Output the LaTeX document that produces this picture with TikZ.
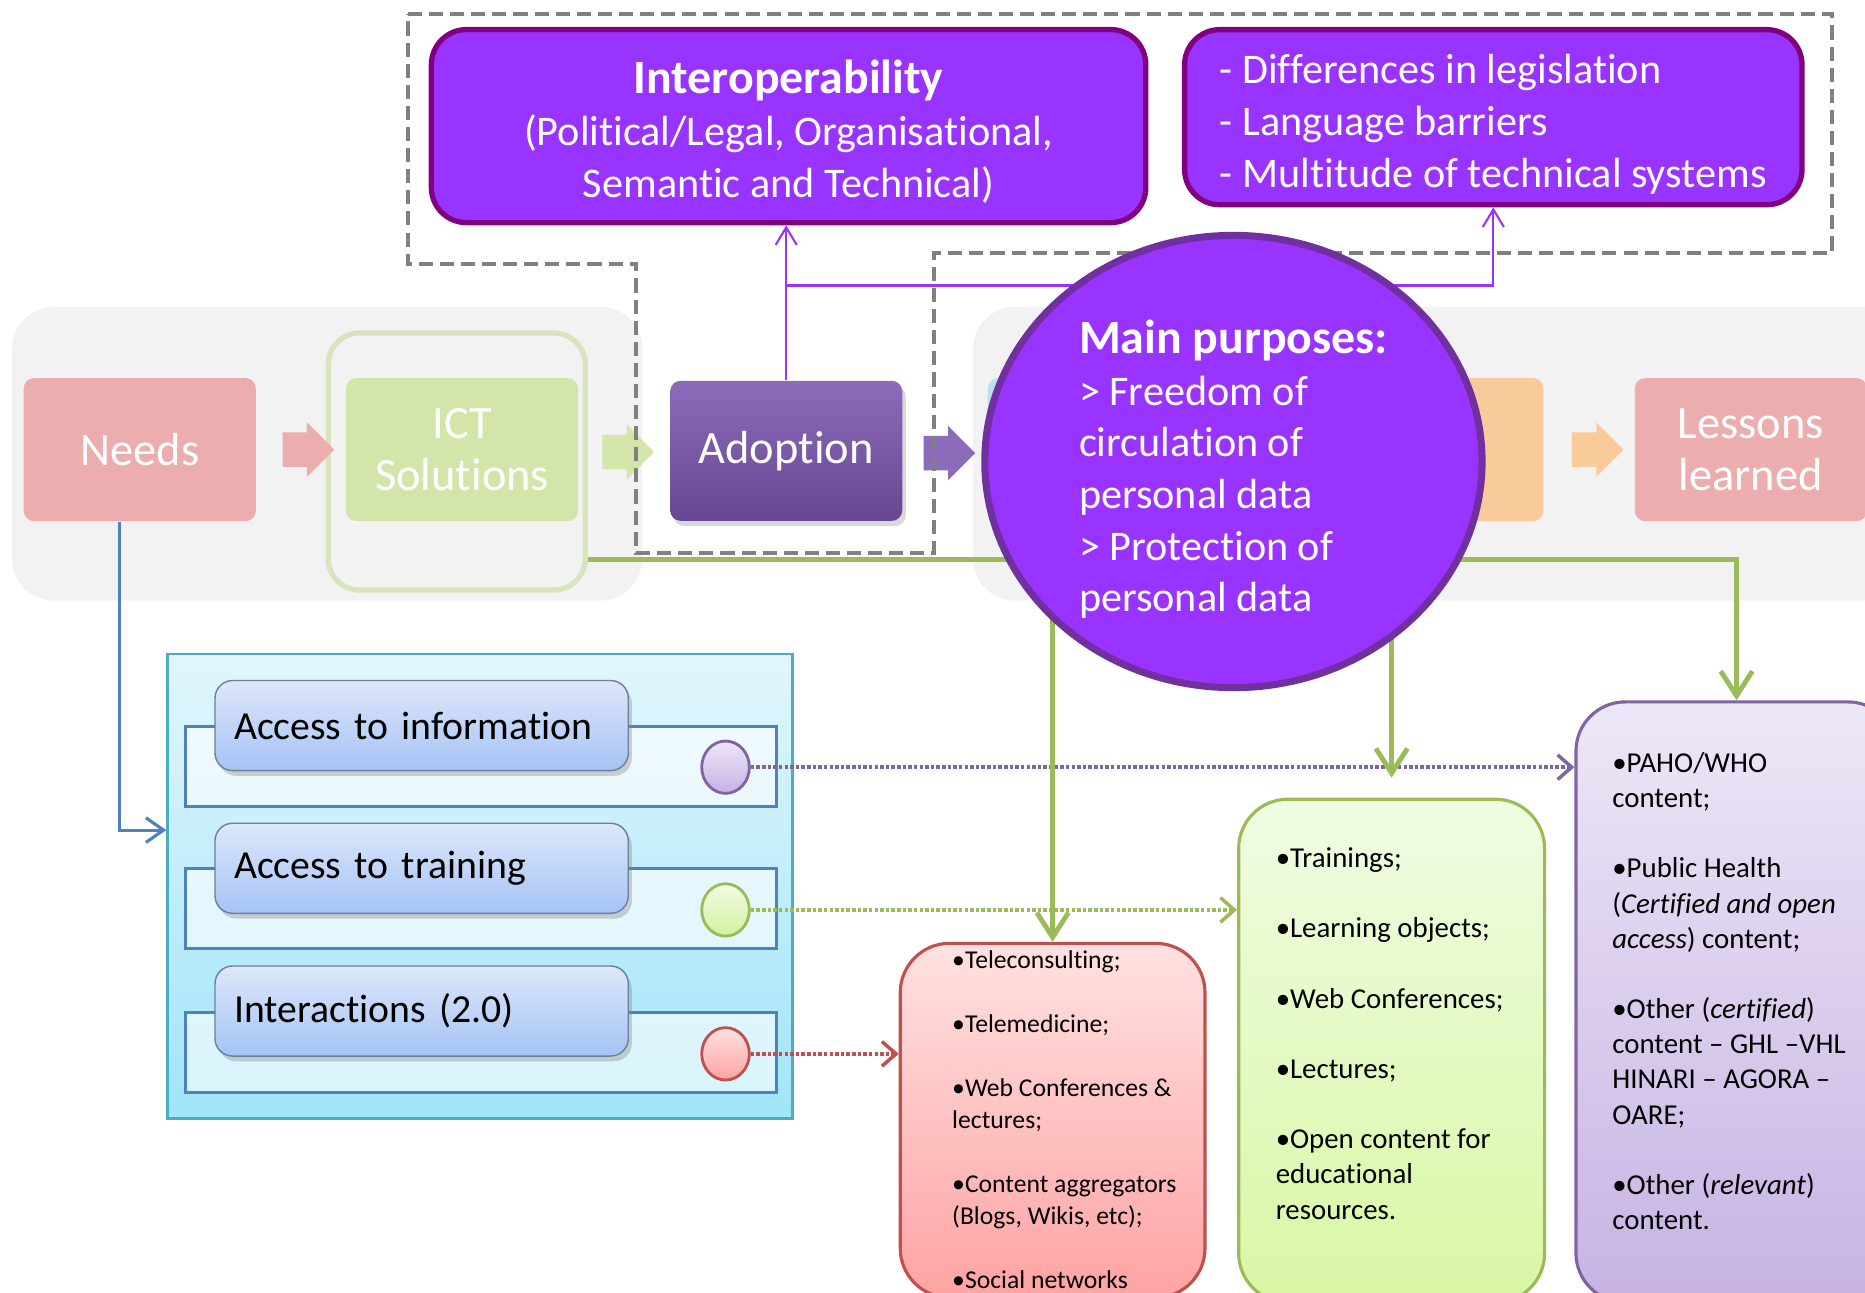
\documentclass[tikz,border=0pt]{standalone}
\usepackage{fontspec}
\setmainfont{Carlito}[Ligatures=NoCommon]
\usetikzlibrary{shapes.geometric, shapes.arrows, arrows.meta, shadows}

\definecolor{vivid}{HTML}{9933FF}
\definecolor{plumline}{HTML}{800080}
\definecolor{ringline}{HTML}{7030A0}
\definecolor{panelgray}{HTML}{F2F2F2}
\definecolor{dashgray}{HTML}{808080}
\definecolor{leaf}{HTML}{9BBB59}
\definecolor{sky}{HTML}{4F81BD}
\definecolor{lagoon}{HTML}{4BACC6}
\definecolor{brick}{HTML}{C0504D}
\definecolor{lilac}{HTML}{8064A2}
\definecolor{needred}{HTML}{EBADAD}
\definecolor{ictgreen}{HTML}{D3E5A9}
\definecolor{ictline}{HTML}{D7E4BD}
\definecolor{orangefade}{HTML}{F9CA9A}
\definecolor{tealfade}{HTML}{B9E3EC}
\definecolor{adopttop}{HTML}{8C6BBB}
\definecolor{adoptbot}{HTML}{674791}
\definecolor{cyantop}{HTML}{E1F6FC}
\definecolor{cyanbot}{HTML}{A0E5F9}
\definecolor{pilltop}{HTML}{DDE7FA}
\definecolor{pillbot}{HTML}{A5C3F5}
\definecolor{redtop}{HTML}{FFE1E1}
\definecolor{redbot}{HTML}{FFA3A3}
\definecolor{greentop}{HTML}{F1FCE3}
\definecolor{greenbot}{HTML}{D8F7A4}
\definecolor{lilactop}{HTML}{EEE7F7}
\definecolor{lilacbot}{HTML}{C6B3E3}

\begin{document}
\begin{tikzpicture}[x=0.011894cm, y=-0.011894cm,
  stage/.style={rounded corners=3pt, minimum width=2.32cm, minimum height=1.43cm, inner sep=0pt,
    text=white, align=center, font=\fontsize{13.2}{14.9}\selectfont},
  chev/.style={single arrow, draw=none, inner sep=0.165cm, minimum height=0.51cm,
    single arrow head extend=0.1cm},
  note/.style={rounded corners=10pt, draw=plumline, line width=1.5pt, fill=vivid, text=white,
    inner sep=0pt, font=\fontsize{12}{14.8}\selectfont},
  rowframe/.style={draw=sky, line width=0.8pt, fill=white, fill opacity=0.6,
    minimum width=5.91cm, minimum height=0.8cm},
  pill/.style={rounded corners=5pt, draw=gray!60!sky, top color=pilltop, bottom color=pillbot,
    text width=3.75cm, inner xsep=0.19cm, minimum height=0.9cm, align=left,
    font=\fontsize{11.3}{13}\selectfont,
    drop shadow={opacity=0.35, shadow xshift=1pt, shadow yshift=-1.5pt}},
  dot/.style={ellipse, line width=0.8pt, inner sep=0pt, minimum width=0.476cm, minimum height=0.523cm},
  card/.style={rounded corners=14pt, line width=0.9pt},
  list/.style={anchor=north west, inner sep=0pt, align=left},
  dotline/.style={line width=1pt, dash pattern=on 1pt off 0.6pt, -{Straight Barb[length=4pt, width=7pt]}},
  feed/.style={leaf, line width=1.4pt, -{Straight Barb[length=7pt, width=9pt]}},
  link/.style={vivid, line width=0.6pt, -{Straight Barb[length=5pt, width=6pt]}},
  pipe/.style={sky, line width=0.9pt, -{Straight Barb[length=5pt, width=7pt]}}]

\useasboundingbox (0,0) rectangle (1568,1087);
\clip (0,0) rectangle (1568,1087);

\fill[panelgray, rounded corners=12pt] (10,258) rectangle (540,505);
\fill[panelgray, rounded corners=12pt] (818,258) rectangle (1600,505);

\node[draw=ictline, line width=1.5pt, rounded corners=9pt, minimum width=2.57cm, minimum height=2.57cm] (ictframe) at (384,388) {};
\node[stage, fill=needred] (needs) at (117.5,378) {Needs};
\node[stage, fill=ictgreen] (ict) at (388.5,378) {ICT\\Solutions};
\node[stage, top color=adopttop, bottom color=adoptbot, minimum height=1.40cm,
  drop shadow={opacity=0.3, shadow xshift=1pt, shadow yshift=-1.5pt}] (adopt) at (661,379) {Adoption};
\node[stage, fill=tealfade] (monitor) at (928,378) {};
\node[stage, fill=orangefade] (result) at (1200,378) {};
\node[stage, fill=needred] (lessons) at (1472,378) {Lessons\\learned};

\node[chev, fill=needred] (step1) at (252,378) {};
\node[chev, fill=ictgreen] (step2) at (521,380) {};
\node[chev, fill=adopttop] (step3) at (791,381) {};
\node[chev, fill=tealfade] (step4) at (1063,378) {};
\node[chev, fill=orangefade] (step5) at (1336,378) {};

\draw[dashgray, line width=1.1pt, dash pattern=on 4pt off 2pt]
  (343,12) -- (1540,12) -- (1540,213) -- (785,213) -- (785,465) -- (535,465) -- (535,222) -- (343,222) -- cycle;

\node[draw=lagoon, line width=0.8pt, top color=cyantop, bottom color=cyanbot,
  minimum width=6.24cm, minimum height=4.64cm] (services) at (403.5,745) {};
\node[rowframe] (rowinfo) at (404.5,644.5) {};
\node[rowframe] (rowtrain) at (404.5,764) {};
\node[rowframe] (rowchat) at (404.5,885) {};
\node[pill] (info) at (354.5,610) {Access to information};
\node[pill] (training) at (354.5,730) {Access to training};
\node[pill] (chat) at (354.5,850) {Interactions (2.0)};
\node[dot, draw=lilac, top color=lilactop, bottom color=lilacbot] (dotinfo) at (610,645) {};
\node[dot, draw=leaf, top color=greentop, bottom color=greenbot!90!leaf] (dottrain) at (610,765) {};
\node[dot, draw=brick, top color=redtop, bottom color=redbot] (dotchat) at (610,886) {};

\node[card, draw=brick, top color=redtop, bottom color=redbot,
  minimum width=3.045cm, minimum height=3.54cm] (tele) at (885,942) {};
\node[card, draw=leaf, top color=greentop, bottom color=greenbot,
  minimum width=3.057cm, minimum height=5.03cm] (train) at (1170,883.5) {};
\node[card, draw=lilac, top color=lilactop, bottom color=lilacbot,
  minimum width=3.21cm, minimum height=6.0cm] (paho) at (1460,842.5) {};

\node[list, font=\fontsize{7.3}{9.1}\selectfont] (telelist) at (800,799) {•Teleconsulting;\\[9.1pt]•Telemedicine;\\[9.1pt]•Web Conferences \&\\lectures;\\[9.1pt]•Content aggregators\\(Blogs, Wikis, etc);\\[9.1pt]•Social networks};
\node[list, font=\fontsize{8.2}{10}\selectfont] (trainlist) at (1072,712) {•Trainings;\\[10pt]•Learning objects;\\[10pt]•Web Conferences;\\[10pt]•Lectures;\\[10pt]•Open content for\\educational\\resources.};
\node[list, font=\fontsize{8.2}{10}\selectfont] (paholist) at (1355,632) {•PAHO/WHO\\content;\\[10pt]•Public Health\\(\textit{Certified and open}\\\textit{access}) content;\\[10pt]•Other (\textit{certified})\\content – GHL –VHL\\HINARI – AGORA –\\OARE;\\[10pt]•Other (\textit{relevant})\\content.};

\draw[dotline, lilac] (dotinfo.east) -- (dotinfo.east -| paho.west);
\draw[dotline, leaf] (dottrain.east) -- (dottrain.east -| train.west);
\draw[dotline, brick] (dotchat.east) -- (dotchat.east -| tele.west);

\draw[pipe] ([xshift=-0.2cm]needs.south) |- ([yshift=0.56cm]services.west);

\coordinate (bus) at (ictframe.east |- 0,470);
\draw[feed] (bus) -| (paho.north);
\draw[feed] (bus -| tele.north) -- (tele.north);
\draw[feed, shorten >=0.2cm] (bus -| train.north) -- (train.north);

\node[note, minimum width=7.14cm, minimum height=1.93cm, align=center] (interop) at (663,106)
  {{\fontsize{13.6}{14.8}\selectfont\bfseries\rule{0pt}{12.8pt}Interoperability}\\(Political/Legal, Organisational,\\Semantic and Technical)};
\node[note, minimum width=6.17cm, minimum height=1.75cm, align=left] (legis) at (1255.5,98.5)
  {\rule{0pt}{12.5pt}- Differences in legislation\\- Language barriers\\- Multitude of technical systems};

\coordinate (fork) at (adopt.north |- 0,240);
\draw[link] (adopt.north) -- (adopt.north |- interop.south);
\draw[link] (fork) -| (legis.south);

\node[ellipse, draw=ringline, line width=2pt, fill=vivid, minimum width=4.97cm, minimum height=4.52cm,
  inner sep=0pt, text=white, align=left, font=\fontsize{12}{14.7}\selectfont] (purpose) at (1037,388)
  {{\fontsize{13.6}{14.7}\selectfont\bfseries\rule{0pt}{14pt}Main purposes:}\\> Freedom of\\circulation of\\personal data\\> Protection of\\personal data};

\end{tikzpicture}
\end{document}
